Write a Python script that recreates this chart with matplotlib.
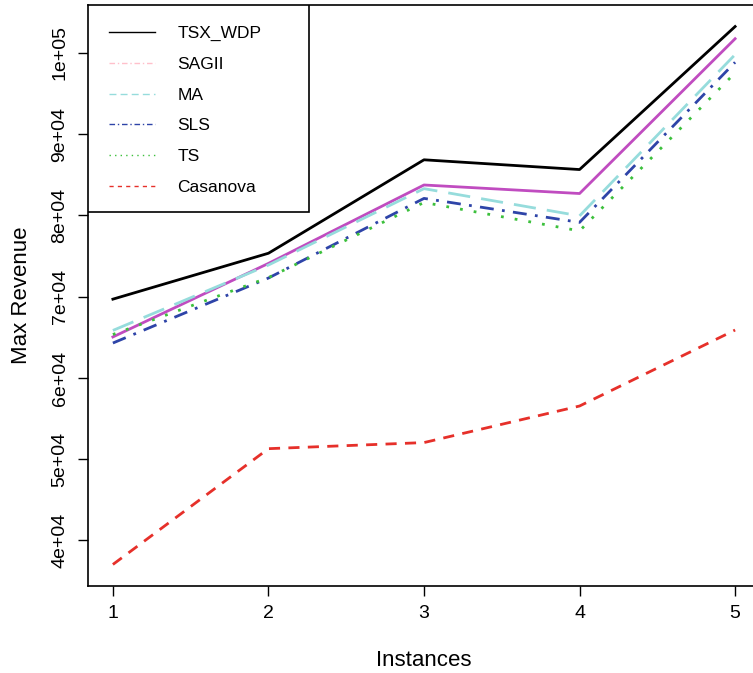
import numpy as np
import matplotlib
matplotlib.use("Agg")
import matplotlib.pyplot as plt
from matplotlib.lines import Line2D
from matplotlib.patches import Rectangle

plt.rcParams['font.family'] = ['Liberation Sans', 'DejaVu Sans']

# data
instances = [1, 2, 3, 4, 5]
tsx_wdp = [69700, 75350, 86850, 85650, 103250]
sagii = [65050, 74100, 83750, 82700, 101750]
ma = [65850, 73900, 83300, 79950, 99800]
sls = [64300, 72300, 82100, 79150, 98850]
ts = [65350, 72350, 81600, 78100, 97550]
casanova = [37050, 51300, 52050, 56550, 65900]
yticks = [40000, 50000, 60000, 70000, 80000, 90000, 100000]
ylabels = ["4e+04", "5e+04", "6e+04", "7e+04", "8e+04", "9e+04", "1e+05"]

fig = plt.figure(figsize=(7.53, 6.73), dpi=100)
ax = fig.add_axes([88/753, 87/673, 672/753, 581/673])

ax.plot(instances, tsx_wdp, color='black', lw=2)
ax.plot(instances, sagii, color='#C04CC0', lw=2)
ax.plot(instances, ma, color='#96DCDC', lw=2, dashes=(8, 4))
ax.plot(instances, sls, color='#2E44A8', lw=2, dashes=(5, 3, 1, 3))
ax.plot(instances, ts, color='#3CC03C', lw=2, dashes=(1, 4))
ax.plot(instances, casanova, color='#E6302A', lw=2, dashes=(4, 3))

ax.set_xlim(0.84, 5.16)
ax.set_ylim(34400, 105900)
ax.set_xticks(instances)
ax.set_xticklabels([str(i) for i in instances], fontsize=14)
ax.set_yticks(yticks)
ax.set_yticklabels(ylabels, fontsize=14, rotation=90, va='center')
ax.tick_params(length=7, width=1, pad=7)
for s in ['top', 'right']:
    ax.spines[s].set_visible(False)
ax.spines['bottom'].set_linewidth(1.2)
ax.spines['left'].set_linewidth(1.2)
# box on top like R
ax.axhline(105900, color='black', lw=1.2, clip_on=False)

ax.set_xlabel("Instances", fontsize=16, labelpad=20)
ax.set_ylabel("Max Revenue", fontsize=16, labelpad=14)

handles = [
    Line2D([], [], color='black', lw=1),
    Line2D([], [], color='#FFC0CB', lw=1, dashes=(4, 2, 1, 2)),
    Line2D([], [], color='#96DCDC', lw=1, dashes=(5, 3)),
    Line2D([], [], color='#2E44A8', lw=1, dashes=(4, 2, 1, 2)),
    Line2D([], [], color='#3CC03C', lw=1, dashes=(1, 3)),
    Line2D([], [], color='#E6302A', lw=1, dashes=(3, 3)),
]
names = ["TSX_WDP", "SAGII", "MA", "SLS", "TS", "Casanova"]

# R style legend box (wider than its content)
box = Rectangle((0, 1), 221/672, -207/581, transform=ax.transAxes,
                facecolor='white', edgecolor='black', lw=1.2, zorder=4)
ax.add_patch(box)
leg = ax.legend(handles, names, loc='upper left', bbox_to_anchor=(0, 1),
                borderaxespad=0, frameon=False, fontsize=12.5,
                handlelength=2.65, handletextpad=1.3, labelspacing=0.9,
                borderpad=1.2)
leg.set_zorder(5)

fig.savefig("out.png", dpi=100)
